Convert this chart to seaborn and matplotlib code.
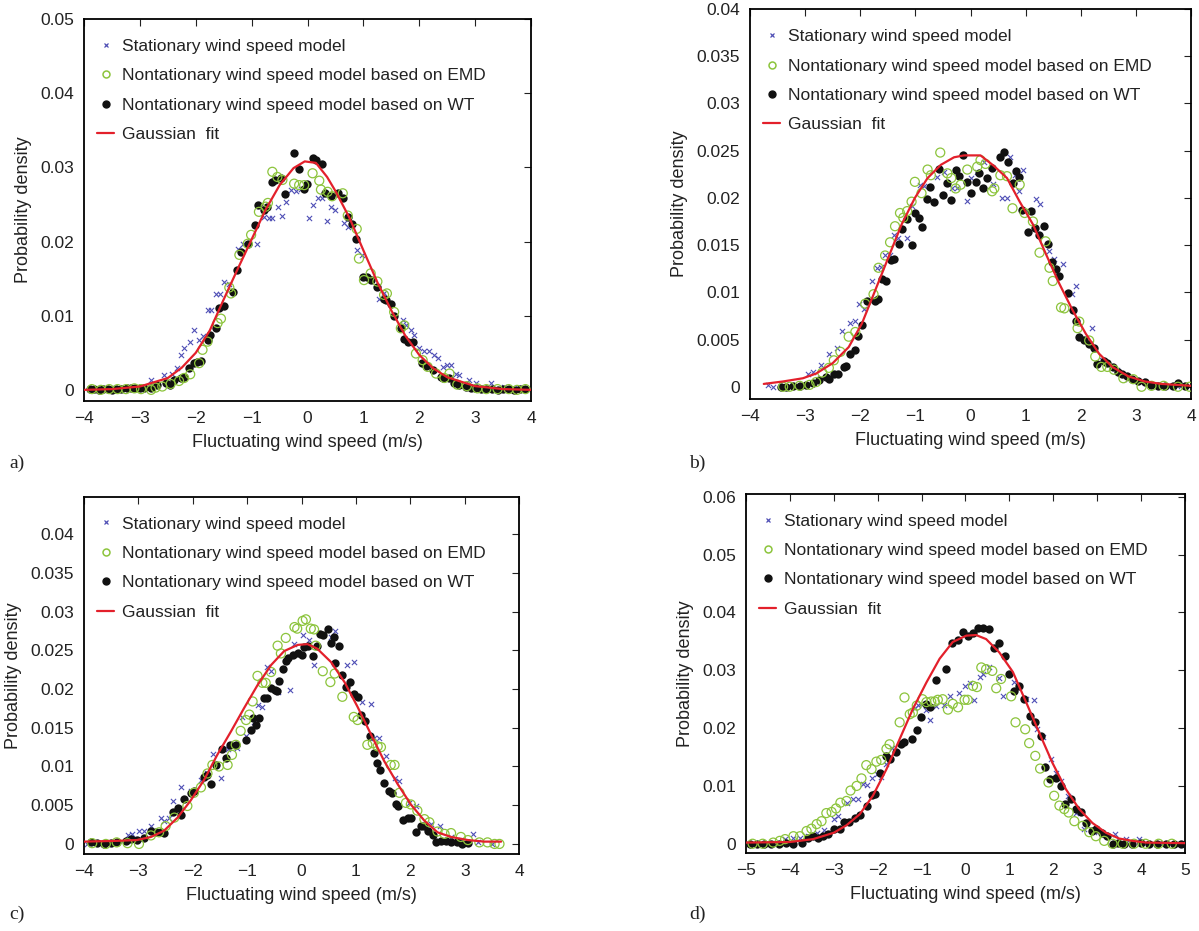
import matplotlib
matplotlib.use("Agg")
import matplotlib.pyplot as plt
from matplotlib.lines import Line2D
from matplotlib.ticker import FuncFormatter
import seaborn as sns
import pandas as pd

# series labels
LABELS = ["Stationary wind speed model",
          "Nontationary wind speed model based on EMD",
          "Nontationary wind speed model based on WT",
          "Gaussian  fit"]
XLABEL = "Fluctuating wind speed (m/s)"
YLABEL = "Probability density"

# ---- panel a) ----
a_stat = [(-3.64,0.0001),(-3.45,0.0002),(-3.28,0.0002),(-3.04,0.00045),(-2.8,0.0013),(-2.57,0.002),(-2.42,0.0022),
          (-2.33,0.0029),(-2.27,0.0047),(-2.21,0.0056),(-2.1,0.0065),(-2.04,0.0081),(-1.95,0.0067),(-1.88,0.0072),
          (-1.79,0.0108),(-1.73,0.0108),(-1.64,0.0129),(-1.56,0.0129),(-1.49,0.0146),(-1.40,0.0143),(-1.24,0.019),
          (-1.16,0.0197),(-0.91,0.0197),(-0.78,0.0233),(-0.69,0.0232),(-0.63,0.0232),(-0.53,0.0247),(-0.45,0.0235),
          (-0.38,0.0253),(-0.30,0.0269),(-0.20,0.0268),(-0.12,0.0271),(0.02,0.0232),(0.10,0.0249),(0.19,0.0259),
          (0.25,0.0259),(0.34,0.0228),(0.42,0.0247),(0.49,0.0242),(0.66,0.0225),(0.72,0.0219),(0.89,0.0188),
          (0.97,0.0182),(1.28,0.0123),(1.37,0.013),(1.55,0.0099),(1.70,0.0094),(1.76,0.0088),(1.85,0.0081),
          (1.91,0.0074),(2.0,0.0057),(2.08,0.0053),(2.18,0.0053),(2.26,0.0047),(2.33,0.0043),(2.42,0.0031),
          (2.49,0.0034),(2.57,0.0034),(2.66,0.0022),(2.71,0.002),(2.89,0.0013),(3.01,0.0009),(3.28,0.0009),
          (3.52,0.00045),(3.76,0.0002)]
a_emd = [(-3.86,0.0001),(-3.7,0.0),(-3.55,0.0001),(-3.4,0.0001),(-3.25,0.0001),(-3.1,0.0002),(-2.98,0.0001),(-2.8,0.0),
         (-2.72,0.0003),(-2.6,0.00045),(-2.45,0.0008),(-2.3,0.0012),(-2.21,0.0016),(-2.1,0.0021),(-1.94,0.0036),
         (-1.88,0.0054),(-1.79,0.0065),(-1.61,0.009),(-1.55,0.0096),(-1.4,0.0138),(-1.37,0.013),(-1.22,0.0182),
         (-1.07,0.0197),(-1.01,0.0209),(-0.87,0.024),(-0.75,0.0247),(-0.71,0.0252),(-0.63,0.0294),(-0.54,0.0287),
         (-0.45,0.0283),(-0.24,0.0278),(-0.15,0.0276),(-0.06,0.0276),(0.09,0.0292),(0.21,0.0282),(0.24,0.027),
         (0.36,0.0267),(0.44,0.0261),(0.63,0.0265),(0.72,0.0235),(0.88,0.0217),(0.92,0.0177),(1.01,0.0148),
         (1.13,0.0157),(1.25,0.0146),(1.37,0.0128),(1.42,0.013),(1.55,0.0105),(1.67,0.0083),(1.73,0.0087),
         (1.94,0.0049),(2.06,0.004),(2.15,0.0031),(2.3,0.0022),(2.45,0.0016),(2.54,0.0022),(2.68,0.0007),
         (2.85,0.0005),(3.04,0.0002),(3.2,0.0001),(3.4,0.0001),(3.6,0.0001),(3.75,0.0),(3.9,0.0001)]
a_wt = [(-3.9,0.0001),(-3.82,0.0001),(-3.74,0.0),(-3.66,0.0001),(-3.58,0.0001),(-3.5,0.0),(-3.42,0.0001),(-3.34,0.0001),
        (-3.24,0.0002),(-3.16,0.0002),(-3.08,0.0002),(-3.0,0.0002),(-2.92,0.0003),(-2.8,0.0002),(-2.7,0.0006),
        (-2.54,0.0009),(-2.46,0.0007),(-2.39,0.0013),(-2.27,0.0016),(-2.21,0.0018),(-2.12,0.0029),(-2.03,0.0036),
        (-1.97,0.0038),(-1.91,0.0039),(-1.79,0.0067),(-1.74,0.0074),(-1.64,0.0083),(-1.58,0.011),(-1.49,0.0113),
        (-1.34,0.0132),(-1.26,0.0161),(-1.19,0.0186),(-1.07,0.0197),(-0.94,0.0222),(-0.88,0.0249),(-0.78,0.0242),
        (-0.73,0.0247),(-0.63,0.028),(-0.58,0.0283),(-0.48,0.0285),(-0.40,0.0264),(-0.24,0.032),(-0.16,0.0298),
        (-0.06,0.0271),(-0.01,0.0278),(0.09,0.0313),(0.15,0.031),(0.25,0.0304),(0.31,0.0265),(0.42,0.0262),
        (0.54,0.0265),(0.63,0.0259),(0.72,0.0233),(0.79,0.0223),(0.87,0.0204),(1.0,0.0152),(1.07,0.0152),
        (1.13,0.0148),(1.25,0.0139),(1.36,0.0123),(1.40,0.0121),(1.50,0.0116),(1.55,0.0099),(1.67,0.0083),
        (1.73,0.0068),(1.80,0.0065),(1.88,0.0065),(2.04,0.0036),(2.12,0.0032),(2.24,0.0027),(2.39,0.0018),
        (2.43,0.0016),(2.54,0.0016),(2.63,0.0009),(2.71,0.0007),(2.83,0.0004),(2.92,0.0002),(3.0,0.0002),
        (3.1,0.0001),(3.2,0.0001),(3.3,0.0001),(3.4,0.0),(3.5,0.0001),(3.6,0.0001),(3.7,0.0),(3.8,0.0001),(3.9,0.0001)]
a_fit_x = [-4.0,-3.5,-3.0,-2.5,-2.25,-2.0,-1.75,-1.5,-1.25,-1.0,-0.75,-0.5,-0.25,-0.05,0.15,0.35,0.5,0.75,
           1.0,1.25,1.5,1.75,2.0,2.25,2.5,3.0,3.5,4.0]
a_fit_y = [0.0,0.0001,0.00045,0.0016,0.003,0.005,0.008,0.0122,0.0163,0.0203,0.0243,0.0276,0.0299,0.0308,0.0306,
           0.0287,0.0268,0.0232,0.0188,0.0145,0.0107,0.0073,0.0047,0.0029,0.0017,0.0005,0.0001,0.0]

# ---- panel b) ----
b_stat = [(-3.67,0.0002),(-3.58,0.0),(-2.95,0.0014),(-2.86,0.0016),(-2.71,0.0023),(-2.57,0.0035),(-2.42,0.0041),
          (-2.33,0.0059),(-2.18,0.0067),(-2.10,0.007),(-2.03,0.0088),(-1.94,0.0082),(-1.79,0.0112),(-1.70,0.0126),
          (-1.62,0.0127),(-1.55,0.0139),(-1.46,0.014),(-1.39,0.0161),(-1.31,0.0158),(-1.16,0.0158),(-1.07,0.0191),
          (-0.92,0.0214),(-0.85,0.0213),(-0.61,0.0222),(-0.48,0.0227),(-0.33,0.0211),(-0.24,0.021),(-0.06,0.0197),
          (0.0,0.0221),(0.11,0.0227),(0.24,0.0238),(0.41,0.0215),(0.57,0.02),(0.66,0.02),(0.72,0.0243),(0.81,0.0224),
          (0.88,0.0207),(0.95,0.023),(1.12,0.0186),(1.18,0.0199),(1.26,0.0194),(1.42,0.0144),(1.52,0.0135),
          (1.67,0.013),(1.84,0.0098),(1.91,0.0107),(2.21,0.0062),(2.39,0.0028),(2.66,0.0018),(2.86,0.0008),
          (3.10,0.0006),(3.34,0.0002),(3.58,0.0001),(3.82,0.0001)]
b_emd = [(-3.4,0.0),(-3.28,0.0),(-3.1,0.0001),(-2.92,0.0002),(-2.80,0.0005),(-2.69,0.0015),(-2.57,0.002),(-2.48,0.0028),
         (-2.36,0.0037),(-2.21,0.0053),(-2.09,0.0058),(-1.91,0.0088),(-1.76,0.0098),(-1.67,0.0126),(-1.55,0.0139),
         (-1.46,0.0153),(-1.37,0.017),(-1.28,0.0184),(-1.22,0.0179),(-1.15,0.0186),(-1.07,0.0196),(-1.01,0.0217),
         (-0.89,0.0205),(-0.78,0.023),(-0.72,0.0224),(-0.55,0.0248),(-0.42,0.0226),(-0.35,0.0221),(-0.27,0.021),
         (-0.18,0.0214),(-0.06,0.023),(0.12,0.0233),(0.18,0.024),(0.27,0.0236),(0.39,0.0207),(0.43,0.021),
         (0.54,0.0224),(0.66,0.0223),(0.76,0.0189),(0.89,0.0214),(0.98,0.0184),(1.13,0.0175),(1.25,0.0142),
         (1.36,0.0154),(1.43,0.0126),(1.49,0.0112),(1.64,0.0084),(1.70,0.0083),(1.94,0.0062),(1.97,0.0069),
         (2.15,0.0049),(2.26,0.0032),(2.37,0.0021),(2.48,0.0021),(2.60,0.0018),(2.77,0.0009),(2.95,0.0008),
         (3.10,0.0),(3.28,0.0001),(3.5,0.0001),(3.76,0.0),(3.97,0.0)]
b_wt = [(-3.43,0.0),(-3.34,0.0),(-3.22,0.0001),(-3.1,0.0001),(-2.98,0.0002),(-2.86,0.0004),(-2.74,0.0007),(-2.63,0.001),
        (-2.57,0.0008),(-2.48,0.0014),(-2.40,0.0014),(-2.30,0.0021),(-2.26,0.0022),(-2.18,0.0035),(-2.10,0.0039),
        (-2.04,0.0054),(-1.97,0.0065),(-1.88,0.0091),(-1.73,0.0091),(-1.68,0.0093),(-1.61,0.0114),(-1.54,0.0112),
        (-1.44,0.0134),(-1.38,0.0135),(-1.29,0.0151),(-1.24,0.0167),(-1.16,0.0178),(-1.07,0.015),(-1.01,0.0184),
        (-0.94,0.0179),(-0.88,0.0169),(-0.79,0.0199),(-0.73,0.0212),(-0.66,0.0196),(-0.58,0.0231),(-0.50,0.0203),
        (-0.43,0.0216),(-0.35,0.0198),(-0.27,0.023),(-0.21,0.0223),(-0.14,0.0245),(-0.07,0.0217),(0.01,0.0205),
        (0.09,0.0217),(0.15,0.0226),(0.22,0.021),(0.30,0.0221),(0.39,0.0232),(0.53,0.0243),(0.60,0.0249),
        (0.67,0.0238),(0.76,0.0216),(0.82,0.0228),(0.88,0.0222),(0.94,0.0187),(1.04,0.0164),(1.10,0.0186),
        (1.16,0.0168),(1.24,0.0161),(1.33,0.017),(1.40,0.0151),(1.48,0.0132),(1.55,0.0125),(1.61,0.0117),
        (1.76,0.0099),(1.85,0.0081),(1.92,0.007),(1.97,0.0053),(2.06,0.0049),(2.15,0.0045),(2.24,0.0041),
        (2.30,0.0024),(2.42,0.0027),(2.48,0.0025),(2.58,0.0021),(2.67,0.0016),(2.74,0.0013),(2.83,0.0011),
        (2.92,0.0008),(3.04,0.0006),(3.16,0.0005),(3.28,0.0002),(3.40,0.0001),(3.52,0.0001),(3.67,0.0001),
        (3.76,0.0004),(3.88,0.0001)]
b_fit_x = [-3.75,-3.4,-3.04,-2.8,-2.5,-2.21,-1.97,-1.73,-1.49,-1.25,-1.01,-0.78,-0.54,-0.30,-0.12,0.18,0.42,0.66,
           0.89,1.13,1.37,1.61,1.85,2.09,2.33,2.57,2.86,3.16,3.46,4.0]
b_fit_y = [0.0003,0.00056,0.0009,0.0014,0.0025,0.0042,0.0067,0.0102,0.0137,0.0172,0.02,0.0221,0.0235,0.0243,0.0245,
           0.0245,0.0234,0.0221,0.0196,0.0172,0.014,0.0109,0.0081,0.0056,0.0035,0.0021,0.0011,0.00056,0.0003,0.0001]

# ---- panel c) ----
c_stat = [(-3.94,0.0),(-3.2,0.0011),(-3.11,0.0013),(-2.99,0.0017),(-2.90,0.0017),(-2.77,0.0023),(-2.59,0.0034),
          (-2.53,0.003),(-2.44,0.0034),(-2.37,0.0056),(-2.22,0.0073),(-2.04,0.0068),(-1.85,0.0083),(-1.73,0.0092),
          (-1.62,0.0116),(-1.48,0.0085),(-1.36,0.0122),(-1.18,0.0124),(-1.09,0.0164),(-1.02,0.0139),(-0.87,0.0158),
          (-0.81,0.018),(-0.72,0.0177),(-0.64,0.0228),(-0.56,0.0223),(-0.44,0.0196),(-0.41,0.0209),(-0.21,0.0199),
          (-0.13,0.0258),(0.02,0.027),(0.14,0.0263),(0.23,0.0231),(0.54,0.0267),(0.61,0.0275),(0.83,0.0231),
          (0.97,0.0235),(1.12,0.0183),(1.28,0.0181),(1.34,0.0137),(1.43,0.0137),(1.55,0.0113),(1.71,0.0085),
          (1.80,0.0081),(1.98,0.0053),(2.10,0.0049),(2.38,0.0026),(2.55,0.0023),(2.75,0.0009),(2.93,0.0005),
          (3.15,0.0013),(3.24,0.0002),(3.5,0.0)]
c_emd = [(-3.85,0.0001),(-3.6,0.0),(-3.4,0.0002),(-3.20,0.0001),(-2.99,0.0),(-2.77,0.0011),(-2.62,0.0015),(-2.50,0.0023),
         (-2.34,0.0034),(-2.10,0.0049),(-1.98,0.0066),(-1.85,0.0073),(-1.73,0.0091),(-1.64,0.0102),(-1.52,0.01),
         (-1.36,0.0102),(-1.28,0.0115),(-1.21,0.0128),(-1.12,0.0146),(-1.02,0.016),(-0.96,0.0167),(-0.90,0.0184),
         (-0.81,0.0217),(-0.72,0.0208),(-0.66,0.0208),(-0.56,0.0222),(-0.44,0.0256),(-0.38,0.0246),(-0.29,0.0266),
         (-0.13,0.028),(-0.08,0.0278),(0.02,0.0288),(0.08,0.029),(0.17,0.0278),(0.23,0.0277),(0.26,0.0256),
         (0.39,0.0223),(0.53,0.0209),(0.61,0.022),(0.75,0.019),(0.96,0.0164),(1.03,0.016),(1.21,0.0128),
         (1.31,0.013),(1.40,0.0126),(1.46,0.0125),(1.64,0.0102),(1.71,0.0102),(1.80,0.0066),(1.92,0.0053),
         (2.01,0.0051),(2.13,0.0043),(2.26,0.0032),(2.35,0.0028),(2.50,0.0016),(2.63,0.0013),(2.75,0.0014),
         (2.93,0.0009),(3.06,0.0005),(3.27,0.0002),(3.42,0.0002),(3.55,0.0),(3.64,0.0)]
c_wt = [(-3.88,0.0003),(-3.76,0.0001),(-3.63,0.0),(-3.51,0.0001),(-3.39,0.0002),(-3.23,0.0004),(-3.14,0.0006),
        (-3.02,0.0005),(-2.90,0.0008),(-2.77,0.0017),(-2.68,0.0016),(-2.59,0.0015),(-2.53,0.0014),(-2.36,0.0041),
        (-2.28,0.0047),(-2.22,0.0038),(-2.16,0.0058),(-2.04,0.0066),(-1.98,0.0068),(-1.79,0.0087),(-1.74,0.0089),
        (-1.66,0.0078),(-1.58,0.0102),(-1.47,0.0122),(-1.39,0.0111),(-1.31,0.0128),(-1.21,0.0128),(-1.02,0.0134),
        (-0.93,0.0147),(-0.90,0.0162),(-0.84,0.0154),(-0.78,0.0163),(-0.69,0.0188),(-0.63,0.0189),(-0.56,0.0201),
        (-0.49,0.0199),(-0.45,0.0197),(-0.41,0.0211),(-0.34,0.0226),(-0.28,0.0236),(-0.25,0.024),(-0.15,0.0244),
        (-0.07,0.0246),(0.0,0.0244),(0.05,0.0254),(0.11,0.0256),(0.21,0.0243),(0.28,0.0255),(0.34,0.0271),
        (0.40,0.027),(0.48,0.0278),(0.54,0.026),(0.60,0.0267),(0.61,0.0234),(0.69,0.0256),(0.75,0.0218),
        (0.82,0.0202),(0.89,0.0209),(0.97,0.0193),(1.03,0.019),(1.09,0.0167),(1.17,0.0159),(1.25,0.014),
        (1.33,0.0117),(1.39,0.0105),(1.45,0.0095),(1.52,0.0079),(1.61,0.0068),(1.66,0.0066),(1.74,0.0051),
        (1.78,0.0049),(1.86,0.0031),(1.95,0.0034),(2.01,0.0033),(2.10,0.0016),(2.20,0.0023),(2.25,0.0023),
        (2.32,0.0017),(2.41,0.0011),(2.47,0.0002),(2.56,0.0004),(2.66,0.0004),(2.75,0.0003),(2.86,0.0002),
        (2.96,0.0),(3.06,0.0001)]
c_fit_x = [-4.0,-3.39,-3.03,-2.77,-2.53,-2.28,-2.04,-1.79,-1.55,-1.30,-1.06,-0.81,-0.56,-0.32,-0.07,0.11,0.29,0.54,
           0.79,1.03,1.28,1.52,1.77,2.01,2.26,2.50,2.75,3.06,3.36,3.67]
c_fit_y = [0.0003,0.0004,0.0005,0.0009,0.0017,0.0034,0.0056,0.0083,0.0115,0.0145,0.0175,0.0205,0.0231,0.0249,0.0257,
           0.0258,0.0252,0.0235,0.0209,0.0177,0.0141,0.0107,0.0077,0.0051,0.003,0.0015,0.0009,0.0005,0.0003,0.0003]

# ---- panel d) ----
d_stat = [(-4.11,0.0008),(-3.92,0.001),(-3.77,0.001),(-3.58,0.0013),(-3.39,0.0019),(-3.23,0.0024),(-3.0,0.0042),
          (-2.90,0.0048),(-2.71,0.007),(-2.56,0.0078),(-2.45,0.0077),(-2.33,0.0103),(-2.24,0.0102),(-2.12,0.0114),
          (-2.02,0.012),(-1.92,0.0116),(-1.80,0.0138),(-1.67,0.0165),(-1.14,0.0234),(-1.08,0.024),(-1.01,0.0242),
          (-0.89,0.0232),(-0.80,0.0214),(-0.67,0.0239),(-0.48,0.024),(-0.35,0.0255),(-0.14,0.0261),(0.0,0.0273),
          (0.11,0.0278),(0.20,0.0249),(0.32,0.0288),(0.41,0.0294),(0.53,0.0305),(0.76,0.0286),(0.85,0.0255),
          (1.10,0.028),(1.38,0.025),(1.55,0.0249),(1.64,0.0198),(1.76,0.0184),(1.95,0.0146),(2.06,0.0123),
          (2.17,0.0109),(2.33,0.0083),(2.52,0.0054),(2.70,0.0026),(2.93,0.002),(3.18,0.0015),(3.41,0.0016),
          (3.65,0.0009),(3.95,0.0008),(4.41,0.0002)]
d_emd = [(-4.85,0.0),(-4.62,0.0),(-4.38,0.0002),(-4.23,0.0005),(-4.11,0.0008),(-3.92,0.0013),(-3.77,0.0013),
         (-3.62,0.0022),(-3.51,0.0026),(-3.39,0.0034),(-3.28,0.0039),(-3.17,0.0053),(-3.05,0.0055),(-2.95,0.0061),
         (-2.85,0.0071),(-2.71,0.0074),(-2.62,0.0092),(-2.48,0.01),(-2.37,0.0113),(-2.26,0.0136),(-2.14,0.0129),
         (-2.03,0.0142),(-1.92,0.0145),(-1.80,0.0164),(-1.73,0.0172),(-1.50,0.021),(-1.39,0.0253),(-1.27,0.0224),
         (-1.20,0.0227),(-1.11,0.0239),(-0.98,0.025),(-0.89,0.0245),(-0.78,0.0246),(-0.70,0.0246),(-0.63,0.0249),
         (-0.52,0.025),(-0.40,0.0232),(-0.29,0.0242),(-0.17,0.0236),(-0.02,0.0249),(0.05,0.0249),(0.17,0.0273),
         (0.26,0.0271),(0.36,0.0305),(0.47,0.0302),(0.61,0.0299),(0.70,0.0269),(0.81,0.0285),(1.04,0.0255),
         (1.14,0.021),(1.36,0.0198),(1.45,0.0174),(1.59,0.0152),(1.70,0.013),(1.89,0.0106),(2.02,0.0083),
         (2.14,0.0066),(2.25,0.006),(2.35,0.0054),(2.48,0.0039),(2.67,0.0031),(2.82,0.002),(2.97,0.0013),
         (3.16,0.0005),(3.35,0.0),(3.58,0.0),(3.84,0.0),(4.1,0.0),(4.4,0.0),(4.7,0.0)]
d_wt = [(-4.91,0.0),(-4.76,0.0),(-4.6,0.0),(-4.42,0.0),(-4.24,0.0),(-4.08,0.0002),(-3.92,0.0),(-3.73,0.0002),
        (-3.58,0.001),(-3.47,0.0013),(-3.36,0.001),(-3.24,0.0013),(-3.13,0.0016),(-3.0,0.0026),(-2.86,0.0025),
        (-2.77,0.0038),(-2.65,0.0038),(-2.52,0.0045),(-2.41,0.0049),(-2.24,0.0066),(-2.14,0.0084),(-2.07,0.0086),
        (-1.95,0.0123),(-1.80,0.0152),(-1.71,0.0147),(-1.59,0.0158),(-1.48,0.0172),(-1.39,0.0176),(-1.23,0.0181),
        (-1.11,0.0197),(-1.01,0.0219),(-0.91,0.0242),(-0.80,0.0236),(-0.67,0.0284),(-0.44,0.0303),(-0.30,0.0347),
        (-0.17,0.0353),(-0.05,0.0367),(0.05,0.036),(0.17,0.0365),(0.28,0.0373),(0.39,0.0373),(0.53,0.0372),
        (0.66,0.0338),(0.77,0.0347),(0.89,0.0324),(1.0,0.0294),(1.11,0.0265),(1.21,0.0272),(1.34,0.025),
        (1.47,0.0221),(1.59,0.021),(1.72,0.0187),(1.82,0.0132),(1.92,0.0112),(2.06,0.0114),(2.17,0.01),
        (2.27,0.0068),(2.40,0.0077),(2.52,0.006),(2.63,0.0055),(2.74,0.0036),(2.88,0.0022),(2.97,0.0026),
        (3.11,0.0018),(3.23,0.0013),(3.35,0.0),(3.48,0.0002),(3.61,0.0),(3.80,0.0),(3.99,0.0001),(4.18,0.0),
        (4.37,0.0),(4.56,0.0),(4.75,0.0),(4.90,0.0)]
d_fit_x = [-5.0,-4.0,-3.47,-3.0,-2.71,-2.41,-2.11,-1.80,-1.50,-1.20,-0.89,-0.59,-0.29,0.02,0.24,0.47,0.77,1.08,
           1.38,1.68,1.98,2.29,2.59,2.89,3.20,3.50,3.80,4.11,5.0]
d_fit_y = [0.0002,0.0003,0.0008,0.0019,0.0032,0.0051,0.0083,0.0129,0.0181,0.0233,0.0279,0.032,0.0349,0.036,0.0361,
           0.0354,0.0331,0.0297,0.0245,0.0192,0.014,0.0094,0.006,0.0036,0.0019,0.0009,0.0005,0.0002,0.0001]

BLUE = "#4f4fb5"
GREEN = "#8cc43c"
BLACK = "#111111"
RED = "#e3202b"

sns.set_theme(style="white")
plt.rcParams["font.family"] = ["Liberation Sans", "DejaVu Sans"]
plt.rcParams["axes.unicode_minus"] = True

fig = plt.figure(figsize=(11.99, 9.31), dpi=100)

# axes rectangles in figure fractions (left, bottom, width, height)
panels = [
    dict(rect=[0.0701, 0.5693, 0.3728, 0.4103], stat=a_stat, emd=a_emd, wt=a_wt, fx=a_fit_x, fy=a_fit_y,
         xlim=(-4, 4), ylim=(-0.0015, 0.05), yticks=[0, 0.01, 0.02, 0.03, 0.04, 0.05], tag="a)", tagpos=(0.008, 0.497)),
    dict(rect=[0.6255, 0.5714, 0.3680, 0.4189], stat=b_stat, emd=b_emd, wt=b_wt, fx=b_fit_x, fy=b_fit_y,
         xlim=(-4, 4), ylim=(-0.0013, 0.04), yticks=[0, 0.005, 0.01, 0.015, 0.02, 0.025, 0.03, 0.035, 0.04],
         tag="b)", tagpos=(0.575, 0.497)),
    dict(rect=[0.0701, 0.0827, 0.3628, 0.3835], stat=c_stat, emd=c_emd, wt=c_wt, fx=c_fit_x, fy=c_fit_y,
         xlim=(-4, 4), ylim=(-0.0013, 0.0448), yticks=[0, 0.005, 0.01, 0.015, 0.02, 0.025, 0.03, 0.035, 0.04],
         tag="c)", tagpos=(0.008, 0.013)),
    dict(rect=[0.6222, 0.0838, 0.3661, 0.3856], stat=d_stat, emd=d_emd, wt=d_wt, fx=d_fit_x, fy=d_fit_y,
         xlim=(-5, 5), ylim=(-0.0016, 0.0605), yticks=[0, 0.01, 0.02, 0.03, 0.04, 0.05, 0.06],
         tag="d)", tagpos=(0.575, 0.013)),
]

yfmt = FuncFormatter(lambda v, pos: ("%g" % round(v, 4)))

for p in panels:
    ax = fig.add_axes(p["rect"])
    stat = pd.DataFrame(p["stat"], columns=["x", "y"])
    emd = pd.DataFrame(p["emd"], columns=["x", "y"])
    wt = pd.DataFrame(p["wt"], columns=["x", "y"])
    fit = pd.DataFrame({"x": p["fx"], "y": p["fy"]})

    sns.scatterplot(data=stat, x="x", y="y", ax=ax, marker="x", color=BLUE, s=14, linewidth=0.8, zorder=2)
    sns.scatterplot(data=wt, x="x", y="y", ax=ax, marker="o", color=BLACK, s=36, linewidth=0, zorder=3)
    sns.scatterplot(data=emd, x="x", y="y", ax=ax, marker="o", color=GREEN, s=42, linewidth=0.9, zorder=4)
    coll = ax.collections[-1]
    coll.set_facecolor("none")
    coll.set_edgecolor(GREEN)
    sns.lineplot(data=fit, x="x", y="y", ax=ax, color=RED, linewidth=1.6, estimator=None, sort=True, zorder=5)

    ax.set_xlim(*p["xlim"])
    ax.set_ylim(*p["ylim"])
    ax.set_xticks(range(p["xlim"][0], p["xlim"][1] + 1))
    ax.set_yticks(p["yticks"])
    ax.yaxis.set_major_formatter(yfmt)
    ax.tick_params(direction="in", length=5, width=0.8, top=True, right=True, labelsize=12.5,
                   colors="#222222", pad=7)
    for s in ax.spines.values():
        s.set_color("black")
        s.set_linewidth(1.3)
    ax.set_xlabel(XLABEL, fontsize=13, color="#222222", labelpad=6)
    ax.set_ylabel(YLABEL, fontsize=13, color="#222222", labelpad=6)

    handles = [
        Line2D([], [], linestyle="none", marker="x", markersize=3.5, markeredgewidth=0.9, color=BLUE),
        Line2D([], [], linestyle="none", marker="o", markersize=5, markerfacecolor="none",
               markeredgecolor=GREEN, markeredgewidth=1.1),
        Line2D([], [], linestyle="none", marker="o", markersize=5, color=BLACK),
        Line2D([], [], color=RED, linewidth=1.6),
    ]
    ax.legend(handles, LABELS, loc="upper left", bbox_to_anchor=(0.0, 0.982), frameon=False,
              fontsize=12.5, handlelength=1.0, handletextpad=0.45, labelspacing=0.82,
              borderaxespad=0.35, labelcolor="#222222")

    fig.text(p["tagpos"][0], p["tagpos"][1], p["tag"], fontsize=14,
             family=["Liberation Serif", "DejaVu Serif"], color="#222222")

fig.savefig("out.png", dpi=100, facecolor="white")
